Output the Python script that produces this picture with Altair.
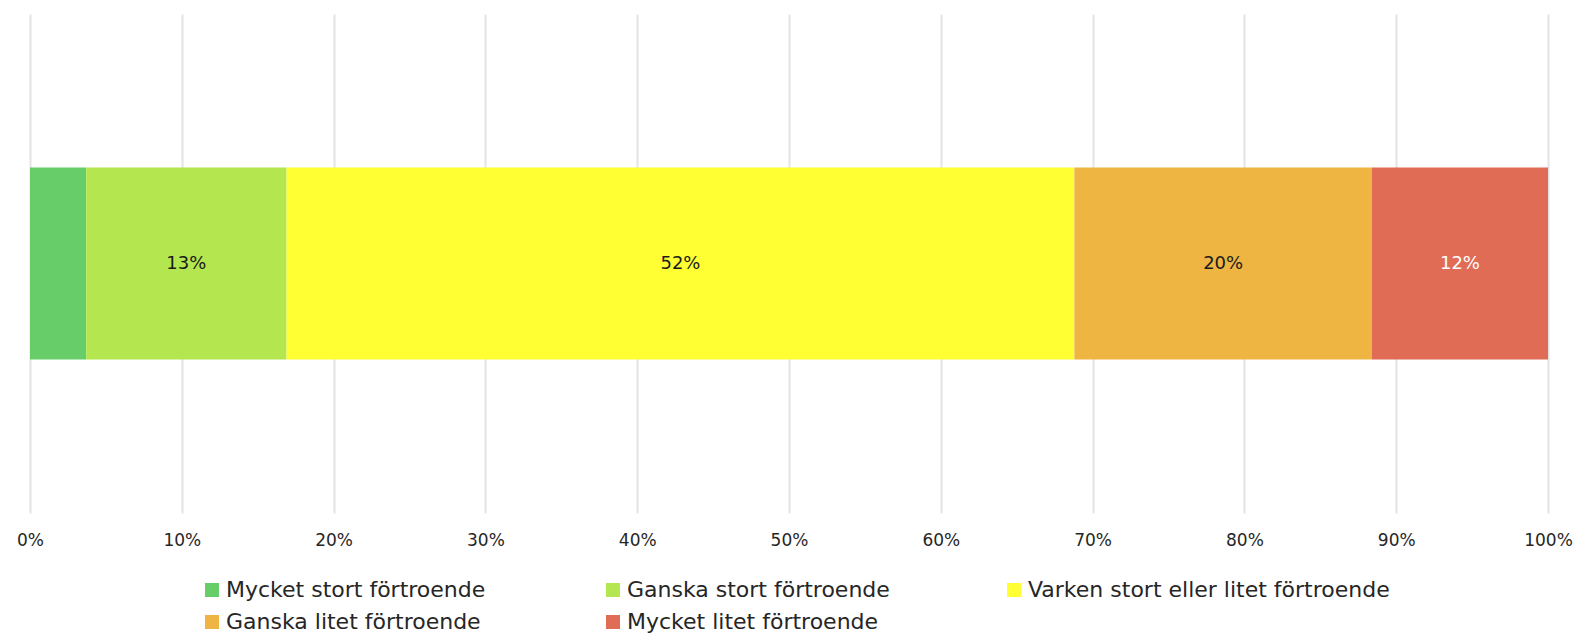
import altair as alt
import pandas as pd

categories = [
    "Mycket stort förtroende",
    "Ganska stort förtroende",
    "Varken stort eller litet förtroende",
    "Ganska litet förtroende",
    "Mycket litet förtroende",
]
values = [3.7, 13.2, 51.9, 19.6, 11.6]
colors = ["#67CD68", "#B3E64F", "#FFFF33", "#EEB543", "#E06C56"]
tick_values = [0, 10, 20, 30, 40, 50, 60, 70, 80, 90, 100]

df = pd.DataFrame({
    "group": ["all"] * len(categories),
    "category": categories,
    "value": values,
    "order": list(range(len(categories))),
})

FONT = "DejaVu Sans"

color_scale = alt.Scale(domain=categories, range=colors)
y_enc = alt.Y("group:N", axis=None,
              scale=alt.Scale(paddingInner=0, paddingOuter=0.8))

base = alt.Chart(df).transform_stack(
    stack="value", groupby=["group"], sort=[alt.SortField("order")],
    as_=["start", "end"],
)

bars = base.mark_bar().encode(
    x=alt.X("start:Q",
            scale=alt.Scale(domain=[0, 100], nice=False),
            axis=alt.Axis(values=tick_values, labelExpr="datum.value + '%'",
                          title=None, domain=False, ticks=False, labelFlush=False,
                          grid=True, gridColor="#E3E3E3", gridWidth=2,
                          labelFont=FONT, labelFontSize=17, labelColor="#262626",
                          labelPadding=19)),
    x2="end:Q",
    y=y_enc,
    color=alt.Color("category:N", scale=color_scale, sort=categories,
                    legend=alt.Legend(
                        title=None, orient="none", legendX=171, legendY=565,
                        direction="horizontal",
                        columns=3, gridAlign="all", columnPadding=14,
                        rowPadding=10,
                        symbolType="square", symbolSize=196, symbolStrokeWidth=0,
                        symbolOpacity=1,
                        labelFont=FONT, labelFontSize=22, labelColor="#262626",
                        labelOffset=3, labelLimit=600)),
)

labels = base.transform_filter("datum.value >= 5").transform_calculate(
    mid="(datum.start + datum.end) / 2",
    label="round(datum.value) + '%'",
).mark_text(font=FONT, fontSize=18).encode(
    x=alt.X("mid:Q"),
    y=y_enc,
    text="label:N",
    color=alt.condition("datum.category == 'Mycket litet förtroende'",
                        alt.value("#FFFFFF"), alt.value("#1A1A1A")),
)

chart = alt.layer(bars, labels).properties(
    width=1518, height=499,
    autosize=alt.AutoSizeParams(type="none"),
    padding={"left": 22, "top": 6, "right": 25, "bottom": 121},
).configure_view(stroke=None)

chart.save("out.html", embed_options={"renderer": "svg", "actions": False})
